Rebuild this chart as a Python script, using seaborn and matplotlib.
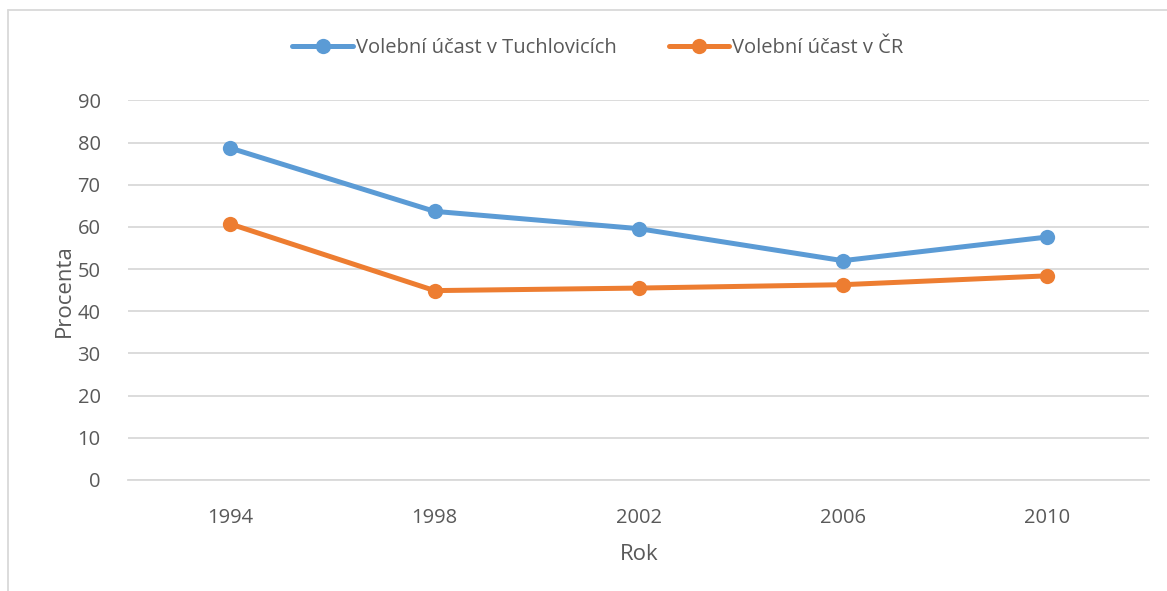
import matplotlib
matplotlib.use("Agg")
import matplotlib.pyplot as plt
import seaborn as sns
import pandas as pd
from matplotlib.lines import Line2D

years = ["1994", "1998", "2002", "2006", "2010"]
tuchlovice = [78.7, 63.7, 59.6, 52.0, 57.6]
cr = [60.7, 44.9, 45.5, 46.3, 48.4]
series_names = ["Volební účast v Tuchlovicích", "Volební účast v ČR"]
colors = ["#5b9bd5", "#ed7d31"]
yticks = [0, 10, 20, 30, 40, 50, 60, 70, 80, 90]

sns.set_theme(style="white")
plt.rcParams["font.family"] = ["Open Sans", "DejaVu Sans"]

df = pd.DataFrame({
    "Rok": years * 2,
    "Procenta": tuchlovice + cr,
    "Serie": [series_names[0]] * len(years) + [series_names[1]] * len(years),
})

fig = plt.figure(figsize=(11.67, 5.91), dpi=100)
ax = fig.add_axes([0.110, 0.188, 0.8746, 0.642])

sns.lineplot(data=df, x="Rok", y="Procenta", hue="Serie", palette=colors,
             marker="o", markersize=11, markeredgewidth=0, linewidth=3.6,
             sort=False, ax=ax, legend=False)

ax.set_xlim(-0.5, len(years) - 0.5)
ax.set_ylim(0, 90)
ax.set_yticks(yticks)
ax.yaxis.grid(True, color="#d9d9d9", linewidth=1.3)
ax.set_axisbelow(True)
for s in ["top", "right", "left"]:
    ax.spines[s].set_visible(False)
ax.spines["bottom"].set_color("#d9d9d9")
ax.spines["bottom"].set_linewidth(1.3)
ax.tick_params(axis="both", length=0, labelsize=14.5, labelcolor="#595959")
ax.tick_params(axis="x", pad=20)
ax.tick_params(axis="y", pad=20)
ax.set_xlabel("Rok", fontsize=16, color="#595959", labelpad=12)
ax.set_ylabel("Procenta", fontsize=16, color="#595959", labelpad=2)

handles = [Line2D([0], [0], color=c, lw=3.6, marker="o", markersize=11, markeredgewidth=0)
           for c in colors]
fig.legend(handles, series_names, loc="center", bbox_to_anchor=(0.5125, 0.918), ncol=2,
           frameon=False, fontsize=14.5, labelcolor="#595959", handlelength=3.0,
           handletextpad=0.15, columnspacing=2.6)

# chart border
fig.add_artist(Line2D([8 / 1167, 8 / 1167], [0, 1 - 10 / 591], color="#d9d9d9", lw=1.3,
                      transform=fig.transFigure))
fig.add_artist(Line2D([8 / 1167, 1], [1 - 10 / 591, 1 - 10 / 591], color="#d9d9d9", lw=1.3,
                      transform=fig.transFigure))

fig.savefig("out.png", dpi=100)
